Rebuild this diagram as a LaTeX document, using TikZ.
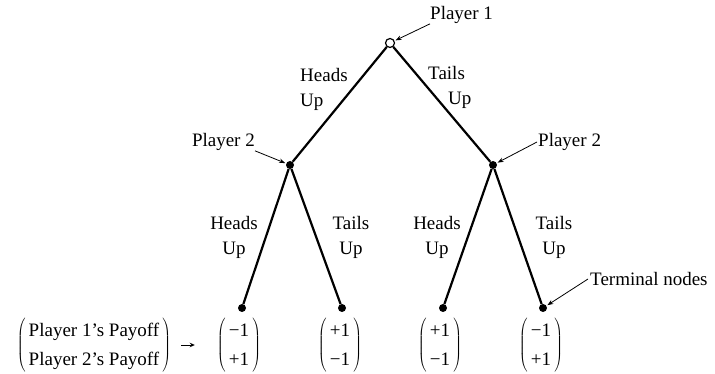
\documentclass[tikz,border=0pt]{standalone}
\usepackage{fontspec}
\setmainfont{Liberation Serif}
\usetikzlibrary{arrows.meta}
\begin{document}
\begin{tikzpicture}[x=1pt,y=-1pt,
  every node/.style={font=\fontsize{19}{25}\selectfont, inner sep=0pt},
  pay/.style={font=\fontsize{19}{29}\selectfont},
  dot/.style={circle, fill=black, minimum size=8pt, inner sep=0pt},
  rootdot/.style={circle, draw=black, fill=white, line width=1.2pt, minimum size=9pt, inner sep=0pt},
  branch/.style={line width=2.2pt},
  pointer/.style={line width=0.8pt, -{Stealth[length=6pt,width=4.5pt]}},
  smallarrow/.style={line width=0.9pt, -{Stealth[length=5pt,width=4.5pt]}},
  lbl/.style={align=center},
]
\useasboundingbox (0,0) rectangle (715,374);

% tree nodes
\node[rootdot] (r) at (390,43) {};
\node[dot] (a) at (290,165) {};
\node[dot] (b) at (493,165) {};
\node[dot] (t1) at (242,308) {};
\node[dot] (t2) at (342,308) {};
\node[dot] (t3) at (443,308) {};
\node[dot] (t4) at (543,308) {};

% branches
\draw[branch] (r) -- (a);
\draw[branch] (r) -- (b);
\draw[branch] (a) -- (t1);
\draw[branch] (a) -- (t2);
\draw[branch] (b) -- (t3);
\draw[branch] (b) -- (t4);

% branch labels
\node[anchor=west, align=left] (hu0) at (300,89) {Heads\\Up};
\node[anchor=west, align=left] (tu0) at (428,87) {Tails\\\hspace*{20pt}Up};
\node[lbl] (hu1) at (234,237) {Heads\\Up};
\node[lbl] (tu1) at (351,237) {Tails\\Up};
\node[lbl] (hu2) at (437,237) {Heads\\Up};
\node[lbl] (tu2) at (554,237) {Tails\\Up};

% player labels with pointers
\node[anchor=west] (p1) at (430,15) {Player 1};
\draw[pointer, shorten >=1pt] (p1.south west) -- (r);
\node[anchor=east] (p2l) at (255,142) {Player 2};
\draw[pointer, shorten >=1pt] (p2l.south east) -- (a);
\node[anchor=west] (p2r) at (538,142) {Player 2};
\draw[pointer, shorten >=1pt] ([xshift=-1pt]p2r.west) -- (b);
\node[anchor=west] (tn) at (590,279) {Terminal nodes};
\draw[pointer, shorten >=1pt] ([xshift=-2pt]tn.west) -- (t4);

% payoffs
\node[pay] (pl) at (94,345) {$\left(\begin{tabular}{@{\,}l@{\,}}Player 1’s Payoff\\Player 2’s Payoff\end{tabular}\right)$};
\node[pay] (m1) at (239,345) {$\left(\begin{tabular}{@{\,}c@{\,}}−1\\+1\end{tabular}\right)$};
\node[pay] (m2) at (340,345) {$\left(\begin{tabular}{@{\,}c@{\,}}+1\\−1\end{tabular}\right)$};
\node[pay] (m3) at (440,345) {$\left(\begin{tabular}{@{\,}c@{\,}}+1\\−1\end{tabular}\right)$};
\node[pay] (m4) at (541,345) {$\left(\begin{tabular}{@{\,}c@{\,}}−1\\+1\end{tabular}\right)$};
\draw[smallarrow, shorten <=10pt, shorten >=22pt] (pl) -- (m1);
\end{tikzpicture}
\end{document}
